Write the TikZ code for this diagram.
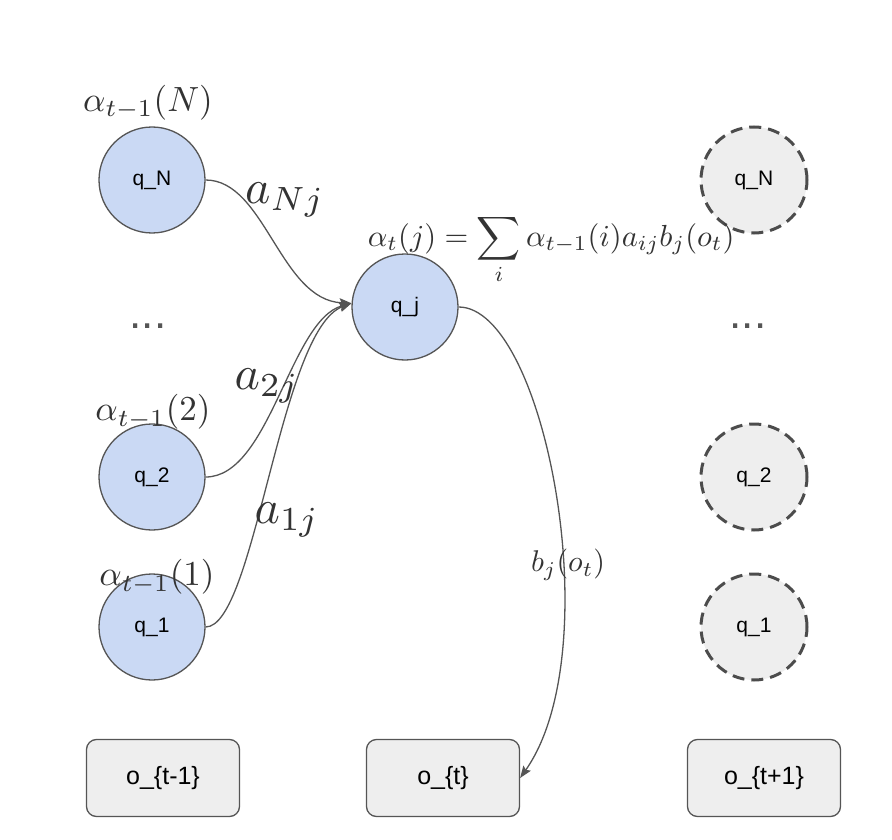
\documentclass[tikz,border=0pt]{standalone}
\usepackage{amsmath}
\usepackage{fontspec}
\setmainfont{Liberation Sans}
\usetikzlibrary{positioning,arrows.meta}

\definecolor{stateblue}{HTML}{CAD9F4}
\definecolor{stategray}{HTML}{EEEEEE}
\definecolor{linegray}{HTML}{555555}
\definecolor{mathgray}{HTML}{333333}

\begin{document}
\begin{tikzpicture}[x=1pt,y=-1pt,>={Stealth[length=12pt,width=9pt,inset=2pt]},line width=1.3pt,
  state node/.style={circle,draw=linegray,fill=stateblue,minimum size=106pt,inner sep=0pt,font=\fontsize{21}{25}\selectfont},
  next node/.style={state node,fill=stategray,draw=linegray!90!black,dash pattern=on 12pt off 7pt,line width=3pt},
  obs node/.style={rectangle,rounded corners=10pt,draw=linegray,fill=stategray,minimum width=153pt,minimum height=77pt,font=\fontsize{25}{29}\selectfont},
  alpha label/.style={text=mathgray,scale=3.5,inner sep=0pt},
  edge label/.style={text=mathgray,scale=4.8,inner sep=0pt},
  dots/.style={text=linegray,font=\fontsize{44}{48}\selectfont,inner sep=0pt}]

            \useasboundingbox (0,0) rectangle (892,840);

            % previous time step
            \node[state node] (qN) at (152,180) {q\_N};
            \node[state node] (q2) at (152,477) {q\_2};
            \node[state node] (q1) at (152,627) {q\_1};
            \node[dots] (dl) at (148,326) {...};

            % current state
            \node[state node] (qj) at (405,307) {q\_j};

            % next time step
            \node[next node] (nN) at (754,180) {q\_N};
            \node[next node] (n2) at (754,477) {q\_2};
            \node[next node] (n1) at (754,627) {q\_1};
            \node[dots] (dr) at (748,326) {...};

            % observations
            \node[obs node] (o1) at (163,778) {o\_\{t-1\}};
            \node[obs node] (o2) at (443,778) {o\_\{t\}};
            \node[obs node] (o3) at (764,778) {o\_\{t+1\}};

            % forward values
            \node[alpha label] (aN) at (148,103) {$\alpha_{t-1}(N)$};
            \node[alpha label] (a2) at (153,412) {$\alpha_{t-1}(2)$};
            \node[alpha label] (a1) at (157,577) {$\alpha_{t-1}(1)$};
            \node[text=mathgray,scale=3.05,inner sep=0pt,anchor=base west] (rec) at (366,246)
                {$\displaystyle\alpha_t(j) = \sum_i \alpha_{t-1}(i) a_{ij} b_j(o_t)$};

            % transitions
            \draw[linegray,->] (qN.east) .. controls (265,180) and (280,300) .. (qj.176);
            \draw[linegray,->] (q2.east) .. controls (270,477) and (290,320) .. (qj.176);
            \draw[linegray,->] (q1.east) .. controls (255,627) and (280,330) .. (qj.176);
            \draw[linegray,->] (qj.east) .. controls (545,307) and (610,650) .. (o2.east);

            \node[edge label] (lN) at (285,200) {$a_{Nj}$};
            \node[edge label] (l2) at (267,386) {$a_{2j}$};
            \node[edge label] (l1) at (287,520) {$a_{1j}$};
            \node[text=mathgray,scale=3,inner sep=0pt] (lb) at (568,565) {$b_j(o_t)$};

        \end{tikzpicture}
\end{document}
